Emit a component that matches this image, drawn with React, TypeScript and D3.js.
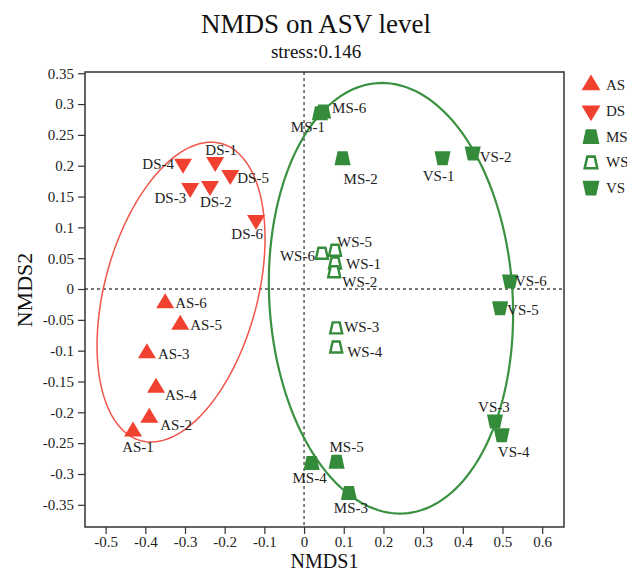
import React, { useEffect, useRef } from "react";
import * as d3 from "d3";

// sample scores
const sampleIds = [
  "AS-1", "AS-2", "AS-3", "AS-4", "AS-5", "AS-6",
  "DS-1", "DS-2", "DS-3", "DS-4", "DS-5", "DS-6",
  "MS-1", "MS-2", "MS-3", "MS-4", "MS-5", "MS-6",
  "WS-1", "WS-2", "WS-3", "WS-4", "WS-5", "WS-6",
  "VS-1", "VS-2", "VS-3", "VS-4", "VS-5", "VS-6",
];
const nmds1 = [
  -0.431, -0.39, -0.396, -0.373, -0.312, -0.35,
  -0.224, -0.237, -0.287, -0.305, -0.186, -0.121,
  0.04, 0.097, 0.113, 0.019, 0.082, 0.048,
  0.078, 0.076, 0.081, 0.081, 0.078, 0.045,
  0.349, 0.425, 0.481, 0.498, 0.494, 0.519,
];
const nmds2 = [
  -0.231, -0.209, -0.104, -0.16, -0.058, -0.023,
  0.206, 0.167, 0.164, 0.203, 0.185, 0.112,
  0.285, 0.212, -0.331, -0.282, -0.28, 0.288,
  0.042, 0.028, -0.063, -0.094, 0.063, 0.058,
  0.212, 0.22, -0.215, -0.237, -0.031, 0.012,
];

const groups = ["AS", "DS", "MS", "WS", "VS"];
const xTicks = [-0.5, -0.4, -0.3, -0.2, -0.1, 0, 0.1, 0.2, 0.3, 0.4, 0.5, 0.6];
const yTicks = [0.35, 0.3, 0.25, 0.2, 0.15, 0.1, 0.05, 0, -0.05, -0.1, -0.15, -0.2, -0.25, -0.3, -0.35];

// confidence ellipses: centre, half major axis, half minor axis (data units)
const ellipseCenter = [[-0.31, -0.005], [0.219, -0.015]];
const ellipseMajor = [[0.101, 0.241], [-0.033, 0.349]];
const ellipseMinor = [[0.186, -0.032], [0.306, 0.012]];

const RED = "#f0402f";
const GREEN = "#348c3a";
const FONT = "'Liberation Serif', 'Times New Roman', serif";

// label placement: [anchor, dx, dy] in px
const labelPos = {
  "AS-1": ["middle", 5, 21], "AS-2": ["start", 11, 12], "AS-3": ["start", 11, 6],
  "AS-4": ["start", 9, 12], "AS-5": ["start", 10, 5], "AS-6": ["start", 10, 5],
  "DS-1": ["middle", 6, -7], "DS-2": ["start", -10, 21], "DS-3": ["end", -4, 15],
  "DS-4": ["end", -9, 5], "DS-5": ["start", 7, 8], "DS-6": ["end", 7, 19],
  "MS-1": ["middle", -12, 19], "MS-2": ["start", 1, 26], "MS-3": ["middle", 2, 20],
  "MS-4": ["middle", -2, 20], "MS-5": ["middle", 10, -10], "MS-6": ["start", 9, 2],
  "WS-1": ["start", 11, 6], "WS-2": ["start", 8, 15], "WS-3": ["start", 8, 4],
  "WS-4": ["start", 11, 10], "WS-5": ["start", 2, -3], "WS-6": ["end", -7, 8],
  "VS-1": ["middle", -4, 23], "VS-2": ["start", 7, 9], "VS-3": ["middle", -1, -10],
  "VS-4": ["middle", 12, 22], "VS-5": ["start", 7, 7], "VS-6": ["start", 5, 4],
};

const markerStyle = {
  AS: { d: "M0,-10L9,5L-9,5Z", fill: RED, stroke: "none" },
  DS: { d: "M0,10L9,-5L-9,-5Z", fill: RED, stroke: "none" },
  MS: { d: "M-5,-7L5,-7L8,7L-8,7Z", fill: GREEN, stroke: "none" },
  WS: { d: "M-3.5,-5.5L3.5,-5.5L6,5.5L-6,5.5Z", fill: "white", stroke: GREEN },
  VS: { d: "M-8,-7L8,-7L5,7L-5,7Z", fill: GREEN, stroke: "none" },
};

export default function App() {
  const ref = useRef(null);

  useEffect(() => {
    const svg = d3.select(ref.current);
    svg.selectAll("*").remove();

    const left = 85, right = 564, top = 72, bottom = 527;
    const x = d3.scaleLinear().domain([-0.552, 0.655]).range([left, right]);
    const y = d3.scaleLinear().domain([-0.386, 0.352]).range([bottom, top]);
    const fmt = (d) => String(+d.toFixed(2));

    // titles
    svg.append("text").attr("x", 316).attr("y", 33).attr("text-anchor", "middle")
      .style("font-family", FONT).style("font-size", "27px").attr("fill", "#111")
      .text("NMDS on ASV level");
    svg.append("text").attr("x", 316).attr("y", 58).attr("text-anchor", "middle")
      .style("font-family", FONT).style("font-size", "19px").attr("fill", "#111")
      .text("stress:0.146");

    // zero reference lines
    svg.append("line").attr("x1", left).attr("x2", right).attr("y1", y(0)).attr("y2", y(0))
      .attr("stroke", "#777").attr("stroke-width", 1.8).attr("stroke-dasharray", "3,3");
    svg.append("line").attr("x1", x(0)).attr("x2", x(0)).attr("y1", top).attr("y2", bottom)
      .attr("stroke", "#777").attr("stroke-width", 1.8).attr("stroke-dasharray", "3,3");

    // axes
    const gx = svg.append("g").attr("transform", `translate(0,${bottom})`)
      .call(d3.axisBottom(x).tickValues(xTicks).tickSize(7).tickPadding(2).tickFormat(fmt));
    const gy = svg.append("g").attr("transform", `translate(${left},0)`)
      .call(d3.axisLeft(y).tickValues(yTicks).tickSize(7).tickPadding(4).tickFormat(fmt));
    [gx, gy].forEach((g) => {
      g.select(".domain").remove();
      g.selectAll("line").attr("stroke", "#333").attr("stroke-width", 1.2);
      g.selectAll("text").style("font-family", FONT).style("font-size", "15px").attr("fill", "#222");
    });

    svg.append("rect").attr("x", left).attr("y", top)
      .attr("width", right - left).attr("height", bottom - top)
      .attr("fill", "none").attr("stroke", "#333").attr("stroke-width", 1.5);

    svg.append("text").attr("x", (left + right) / 2).attr("y", 568).attr("text-anchor", "middle")
      .style("font-family", FONT).style("font-size", "20px").attr("fill", "#111").text("NMDS1");
    svg.append("text").attr("transform", "translate(32,290) rotate(-90)").attr("text-anchor", "middle")
      .style("font-family", FONT).style("font-size", "22px").attr("fill", "#111").text("NMDS2");

    // ellipses
    const line = d3.line().curve(d3.curveLinearClosed);
    const ts = d3.range(0, 2 * Math.PI, Math.PI / 90);
    ellipseCenter.forEach((c, i) => {
      const M = ellipseMajor[i], m = ellipseMinor[i];
      const pts = ts.map((t) => [
        x(c[0] + Math.cos(t) * M[0] + Math.sin(t) * m[0]),
        y(c[1] + Math.cos(t) * M[1] + Math.sin(t) * m[1]),
      ]);
      svg.append("path").attr("d", line(pts)).attr("fill", "none")
        .attr("stroke", i === 0 ? "#f0554a" : "#3a9140")
        .attr("stroke-width", i === 0 ? 1.5 : 2.2);
    });

    // points and labels
    sampleIds.forEach((id, i) => {
      const grp = id.split("-")[0];
      const st = markerStyle[grp];
      const px = x(nmds1[i]), py = y(nmds2[i]);
      svg.append("path").attr("d", st.d).attr("transform", `translate(${px},${py})`)
        .attr("fill", st.fill).attr("stroke", st.stroke).attr("stroke-width", 2.4)
        .attr("stroke-linejoin", "miter");
      const [anchor, dx, dy] = labelPos[id];
      svg.append("text").attr("x", px + dx).attr("y", py + dy).attr("text-anchor", anchor)
        .style("font-family", FONT).style("font-size", "15px").attr("fill", "#222").text(id);
    });

    // legend
    groups.forEach((grp, i) => {
      const st = markerStyle[grp];
      const ly = 85 + i * 25.8;
      svg.append("path").attr("d", st.d).attr("transform", `translate(591,${ly}) scale(1.05)`)
        .attr("fill", st.fill).attr("stroke", st.stroke).attr("stroke-width", 2.4);
      svg.append("text").attr("x", 606).attr("y", ly + 5)
        .style("font-family", FONT).style("font-size", "15px").attr("fill", "#222").text(grp);
    });
  }, []);

  return (
    <svg ref={ref} width={627} height={574}
      style={{ position: "absolute", left: 0, top: 0, background: "white" }} />
  );
}
